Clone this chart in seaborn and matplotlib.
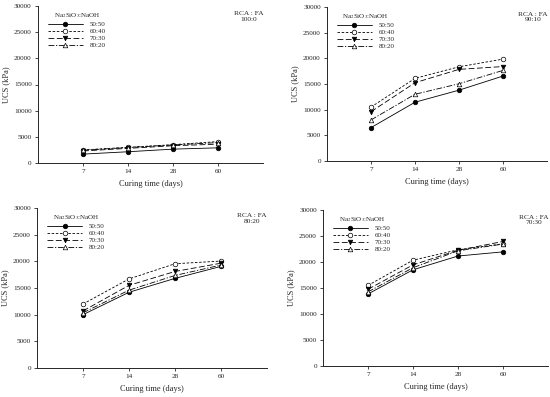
import matplotlib
matplotlib.use("Agg")
import matplotlib.pyplot as plt
import seaborn as sns
import pandas as pd

days = ["7", "14", "28", "60"]
ratios = ["50:50", "60:40", "70:30", "80:20"]
panels = ["100:0", "90:10", "80:20", "70:30"]

# UCS (kPa) per panel (RCA:FA) per ratio
ucs_100_0 = {
    "50:50": [1700, 2150, 2650, 2900],
    "60:40": [2500, 3000, 3500, 4100],
    "70:30": [2300, 2800, 3300, 3600],
    "80:20": [2450, 2950, 3450, 3900],
}
ucs_90_10 = {
    "50:50": [6500, 11450, 13800, 16550],
    "60:40": [10500, 16100, 18350, 19850],
    "70:30": [9600, 15250, 17850, 18400],
    "80:20": [8000, 13000, 15050, 17650],
}
ucs_80_20 = {
    "50:50": [10000, 14200, 16800, 19050],
    "60:40": [12000, 16700, 19550, 20050],
    "70:30": [10700, 15500, 18100, 19650],
    "80:20": [10350, 14600, 17350, 19300],
}
ucs_70_30 = {
    "50:50": [13850, 18500, 21150, 21950],
    "60:40": [15500, 20350, 22350, 23500],
    "70:30": [14750, 19450, 22250, 23950],
    "80:20": [14250, 18900, 22150, 23450],
}
panel_data = [ucs_100_0, ucs_90_10, ucs_80_20, ucs_70_30]

sns.set_theme(style="ticks")
plt.rcParams["font.family"] = ["Liberation Serif", "DejaVu Serif"]
plt.rcParams["mathtext.fontset"] = "stix"

styles = {
    "50:50": dict(marker="o", linestyle="-", mfc="black"),
    "60:40": dict(marker="o", linestyle=(0, (3, 2)), mfc="white"),
    "70:30": dict(marker="v", linestyle=(0, (7, 3)), mfc="black"),
    "80:20": dict(marker="^", linestyle=(0, (7, 2, 1.5, 2)), mfc="white"),
}

fig = plt.figure(figsize=(5.5, 3.97), dpi=100)
W, H = 550, 397
boxes = [(38, 263, 6, 163), (327, 547, 7, 161), (37, 267, 208, 368), (323, 548, 210, 366)]

for box, name, data in zip(boxes, panels, panel_data):
    l, r, t, b = box
    ax = fig.add_axes([l / W, 1 - b / H, (r - l) / W, (b - t) / H])
    for ratio in ratios:
        df = pd.DataFrame({"pos": [1, 2, 3, 4], "UCS": data[ratio]})
        st = styles[ratio]
        sns.lineplot(data=df, x="pos", y="UCS", ax=ax, color="black", lw=0.6,
                     marker=st["marker"], linestyle=st["linestyle"],
                     markerfacecolor=st["mfc"], markeredgecolor="black",
                     markersize=3.3, markeredgewidth=0.5, label=ratio)
    ax.set_xlim(0, 5)
    ax.set_ylim(0, 30000)
    ax.set_xticks([1, 2, 3, 4])
    ax.set_xticklabels(days)
    ax.set_yticks(range(0, 30001, 5000))
    ax.tick_params(labelsize=5.2, length=2.5, width=0.6, pad=2, direction="out")
    for s in ["top", "right"]:
        ax.spines[s].set_visible(False)
    for s in ["left", "bottom"]:
        ax.spines[s].set_linewidth(0.7)
    ax.set_xlabel("Curing time (days)", fontsize=6, labelpad=4)
    ax.set_ylabel("UCS (kPa)", fontsize=6, labelpad=3)
    ax.legend(loc="upper left", bbox_to_anchor=(0.02, 1.0), frameon=False,
              fontsize=5, title=r"Na$_2$SiO$_3$:NaOH", title_fontsize=5,
              handlelength=5.0, handletextpad=1.0, labelspacing=0.15,
              borderpad=0.3, alignment="center")
    ax.text(0.935, 0.97, "RCA : FA\n" + name, transform=ax.transAxes,
            ha="center", va="top", fontsize=5.3, linespacing=1.2)

fig.savefig("out.png", dpi=100)
